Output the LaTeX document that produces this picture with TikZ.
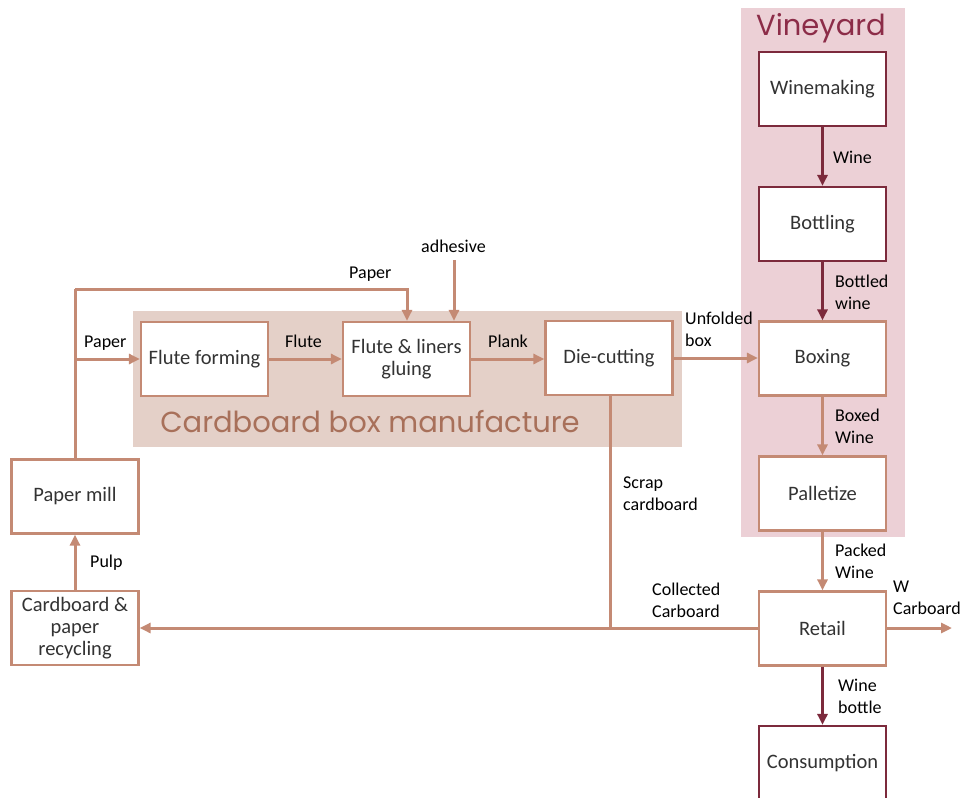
\documentclass[tikz,border=0pt]{standalone}
\usepackage{fontspec}
\setmainfont{Carlito}
\newfontfamily\headfont{Poppins}
\usetikzlibrary{arrows.meta}
\definecolor{cbrown}{HTML}{C48A74}
\definecolor{wine}{HTML}{7C2A3C}
\definecolor{cbbg}{HTML}{E4D0C8}
\definecolor{vybg}{HTML}{ECD0D6}
\definecolor{txt}{HTML}{333333}
\definecolor{cbhead}{HTML}{A8705A}
\definecolor{vyhead}{HTML}{8C2C48}
\tikzset{
  proc/.style={draw=cbrown, fill=white, line width=2.2pt, minimum width=127pt,
    minimum height=74pt, inner sep=0pt, align=center, text=txt,
    font=\fontsize{20.5}{22}\selectfont},
  wproc/.style={proc, draw=wine},
  flow/.style={draw=cbrown, line width=3pt, -{Triangle[length=11pt,width=10pt]}},
  wflow/.style={flow, draw=wine},
  plain/.style={draw=cbrown, line width=3pt},
  lbl/.style={text=black, font=\fontsize{18}{22}\selectfont, align=left, inner sep=0pt},
}
\begin{document}
\begin{tikzpicture}[x=1pt, y=-1pt]
\useasboundingbox (0,0) rectangle (962,798);
\clip (0,0) rectangle (962,798);
% group backgrounds
\fill[cbbg] (133,311) rectangle (682,447);
\fill[vybg] (741,8) rectangle (905,537);
\node[text=cbhead, font=\headfont\fontsize{29}{32}\selectfont, inner sep=0pt] (cbtitle) at (370,422) {Cardboard box manufacture};
\node[text=vyhead, font=\headfont\fontsize{29}{32}\selectfont, inner sep=0pt] (vytitle) at (821,28) {Vineyard};

% process boxes
\node[proc] (ff) at (204.5,359) {Flute forming};
\node[proc] (fl) at (406.5,359) {Flute \& liners\\gluing};
\node[proc] (dc) at (609,358) {Die-cutting};
\node[wproc] (wm) at (822.5,89) {Winemaking};
\node[wproc] (bt) at (822.5,224) {Bottling};
\node[proc] (bx) at (822.5,358.5) {Boxing};
\node[proc] (pl) at (822.5,493.5) {Palletize};
\node[proc] (pm) at (75,496.5) {Paper mill};
\node[proc] (rc) at (75,628) {Cardboard \&\\paper\\recycling};
\node[proc] (rt) at (822.5,628.5) {Retail};
\node[wproc] (cs) at (822.5,763) {Consumption};

% auxiliary points
\coordinate (ptop) at (75,289);
\coordinate (pbr) at (75,359);
\coordinate (adh) at (454,260);
\coordinate (scrap) at (610,628);
\coordinate (wout) at (952,628);

% paper supply
\draw[plain] (pm.north) -- (ptop);
\draw[flow] (ptop) -| ([xshift=0.5pt]fl.north);
\draw[flow] (pbr) -- (ff.west);
\draw[flow] (adh) -- (adh |- fl.north);
\draw[flow] (ff.east) -- (fl.west);
\draw[flow] (fl.east) -- (dc.west |- fl.east);
\draw[flow] (dc.east) -- (bx.west |- dc.east);
% cardboard return
\draw[plain] (dc.south -| scrap) -- (scrap);
\draw[flow] (rt.west |- scrap) -- (rc.east |- scrap);
\draw[flow] (rt.east |- wout) -- (wout);
\draw[flow] (rc.north) -- (pm.south);
% wine chain
\draw[wflow] (wm) -- (bt);
\draw[wflow] (bt) -- (bx);
\draw[flow] (bx) -- (pl);
\draw[flow] (pl) -- (rt);
\draw[wflow] (rt) -- (cs);

% flow labels
\node[lbl, anchor=base west] (l1) at (84,347) {Paper};
\node[lbl, anchor=base west] (l2) at (349,278) {Paper};
\node[lbl, anchor=base west] (l3) at (421,252) {adhesive};
\node[lbl, anchor=base west] (l4) at (285,347) {Flute};
\node[lbl, anchor=base west] (l5) at (488,347) {Plank};
\node[lbl, anchor=north west] (l6) at (685,312) {Unfolded\\box};
\node[lbl, anchor=north west] (l7) at (623,477) {Scrap\\cardboard};
\node[lbl, anchor=north west] (l8) at (652,583) {Collected\\Carboard};
\node[lbl, anchor=north west] (l9) at (893,581) {W\\Carboard};
\node[lbl, anchor=base west] (l10) at (90,567) {Pulp};
\node[lbl, anchor=base west] (l11) at (833,163) {Wine};
\node[lbl, anchor=north west] (l12) at (835,275) {Bottled\\wine};
\node[lbl, anchor=north west] (l13) at (835,409) {Boxed\\Wine};
\node[lbl, anchor=north west] (l14) at (835,544) {Packed\\Wine};
\node[lbl, anchor=north west] (l15) at (838,679) {Wine\\bottle};
\end{tikzpicture}
\end{document}
